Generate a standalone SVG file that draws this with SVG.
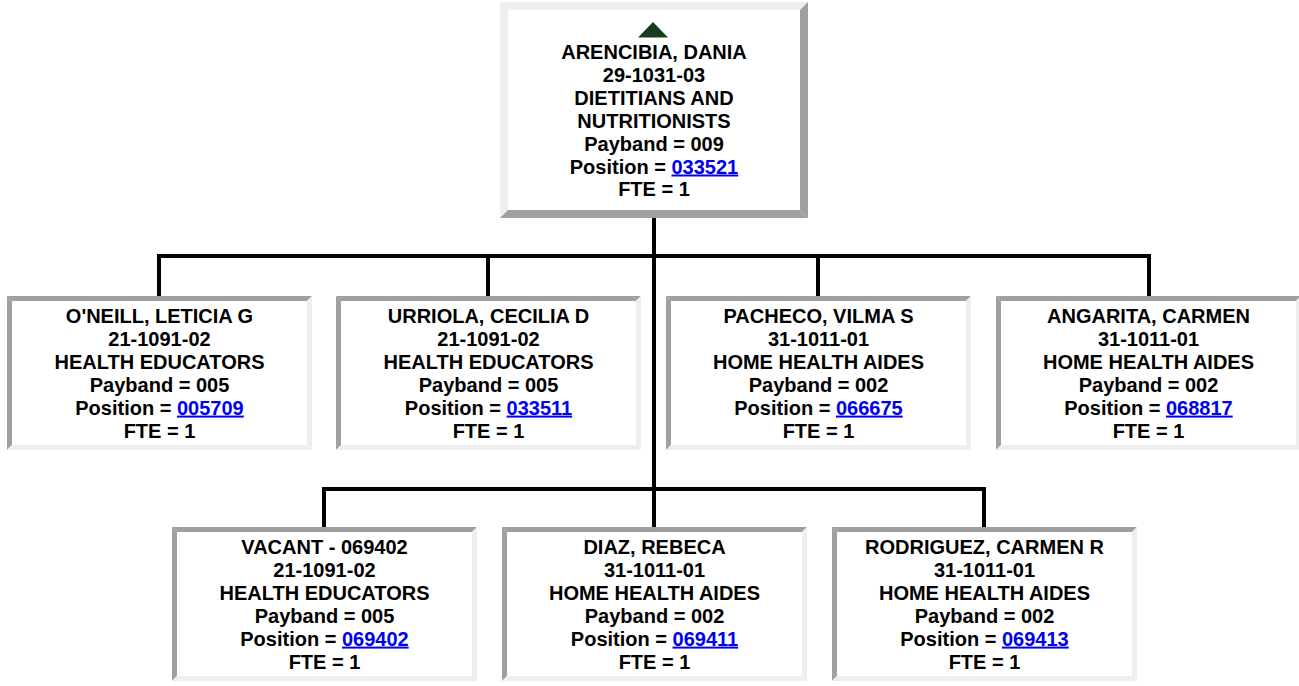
<svg xmlns="http://www.w3.org/2000/svg" xmlns:xlink="http://www.w3.org/1999/xlink" width="1299" height="686" viewBox="0 0 1299 686">
<style>
.t{font-family:"Liberation Sans",Arial,Helvetica,sans-serif;font-weight:bold;font-size:20px;fill:#000;text-anchor:middle}
.lk{fill:#0000ee;text-decoration:underline}
.dk{fill:#a0a0a0}
.lt{fill:#eeeeee}
.c{stroke:#000;stroke-width:4;fill:none;stroke-linecap:square}
</style>
<defs>
<g id="cbox">
<rect x="0" y="0" width="305" height="154" fill="#fff"/>
<polygon class="dk" points="0,0 305,0 300,5 5,5"/>
<polygon class="dk" points="0,0 5,5 5,149 0,154"/>
<polygon class="lt" points="0,154 5,149 300,149 305,154"/>
<polygon class="lt" points="305,0 305,154 300,149 300,5"/>
</g>
</defs>
<rect width="1299" height="686" fill="#fff"/>
<g id="connectors">
<line class="c" x1="654" y1="220" x2="654" y2="525"/>
<polyline class="c" points="159,294 159,256 1149,256 1149,294"/>
<line class="c" x1="488" y1="256" x2="488" y2="294"/>
<line class="c" x1="818" y1="256" x2="818" y2="294"/>
<polyline class="c" points="324,525 324,489 984,489 984,525"/>
</g>
<g id="root">
<rect x="500" y="2" width="308" height="216" fill="#fff"/>
<polygon class="lt" points="500,2 808,2 800,10 508,10"/>
<polygon class="lt" points="500,2 508,10 508,210 500,218"/>
<polygon class="dk" points="500,218 508,210 800,210 808,218"/>
<polygon class="dk" points="808,2 808,218 800,210 800,10"/>
<polygon points="653,22 638,37.5 668,37.5" fill="#183c1c"/>
<text class="t" x="654" y="59">ARENCIBIA, DANIA</text>
<text class="t" x="654" y="81.9">29-1031-03</text>
<text class="t" x="654" y="104.8">DIETITIANS AND</text>
<text class="t" x="654" y="127.7">NUTRITIONISTS</text>
<text class="t" x="654" y="150.6">Payband = 009</text>
<text class="t" x="654" y="173.5">Position = <tspan class="lk">033521</tspan></text>
<text class="t" x="654" y="196.4">FTE = 1</text>
</g>
<g id="oneill">
<use xlink:href="#cbox" x="7" y="296"/>
<text class="t" x="159.5" y="323">O'NEILL, LETICIA G</text>
<text class="t" x="159.5" y="345.9">21-1091-02</text>
<text class="t" x="159.5" y="368.8">HEALTH EDUCATORS</text>
<text class="t" x="159.5" y="391.7">Payband = 005</text>
<text class="t" x="159.5" y="414.6">Position = <tspan class="lk">005709</tspan></text>
<text class="t" x="159.5" y="437.5">FTE = 1</text>
</g>
<g id="urriola">
<use xlink:href="#cbox" x="336" y="296"/>
<text class="t" x="488.5" y="323">URRIOLA, CECILIA D</text>
<text class="t" x="488.5" y="345.9">21-1091-02</text>
<text class="t" x="488.5" y="368.8">HEALTH EDUCATORS</text>
<text class="t" x="488.5" y="391.7">Payband = 005</text>
<text class="t" x="488.5" y="414.6">Position = <tspan class="lk">033511</tspan></text>
<text class="t" x="488.5" y="437.5">FTE = 1</text>
</g>
<g id="pacheco">
<use xlink:href="#cbox" x="666" y="296"/>
<text class="t" x="818.5" y="323">PACHECO, VILMA S</text>
<text class="t" x="818.5" y="345.9">31-1011-01</text>
<text class="t" x="818.5" y="368.8">HOME HEALTH AIDES</text>
<text class="t" x="818.5" y="391.7">Payband = 002</text>
<text class="t" x="818.5" y="414.6">Position = <tspan class="lk">066675</tspan></text>
<text class="t" x="818.5" y="437.5">FTE = 1</text>
</g>
<g id="angarita">
<use xlink:href="#cbox" x="996" y="296"/>
<text class="t" x="1148.5" y="323">ANGARITA, CARMEN</text>
<text class="t" x="1148.5" y="345.9">31-1011-01</text>
<text class="t" x="1148.5" y="368.8">HOME HEALTH AIDES</text>
<text class="t" x="1148.5" y="391.7">Payband = 002</text>
<text class="t" x="1148.5" y="414.6">Position = <tspan class="lk">068817</tspan></text>
<text class="t" x="1148.5" y="437.5">FTE = 1</text>
</g>
<g id="vacant">
<use xlink:href="#cbox" x="172" y="527"/>
<text class="t" x="324.5" y="554">VACANT - 069402</text>
<text class="t" x="324.5" y="576.9">21-1091-02</text>
<text class="t" x="324.5" y="599.8">HEALTH EDUCATORS</text>
<text class="t" x="324.5" y="622.7">Payband = 005</text>
<text class="t" x="324.5" y="645.6">Position = <tspan class="lk">069402</tspan></text>
<text class="t" x="324.5" y="668.5">FTE = 1</text>
</g>
<g id="diaz">
<use xlink:href="#cbox" x="502" y="527"/>
<text class="t" x="654.5" y="554">DIAZ, REBECA</text>
<text class="t" x="654.5" y="576.9">31-1011-01</text>
<text class="t" x="654.5" y="599.8">HOME HEALTH AIDES</text>
<text class="t" x="654.5" y="622.7">Payband = 002</text>
<text class="t" x="654.5" y="645.6">Position = <tspan class="lk">069411</tspan></text>
<text class="t" x="654.5" y="668.5">FTE = 1</text>
</g>
<g id="rodriguez">
<use xlink:href="#cbox" x="832" y="527"/>
<text class="t" x="984.5" y="554">RODRIGUEZ, CARMEN R</text>
<text class="t" x="984.5" y="576.9">31-1011-01</text>
<text class="t" x="984.5" y="599.8">HOME HEALTH AIDES</text>
<text class="t" x="984.5" y="622.7">Payband = 002</text>
<text class="t" x="984.5" y="645.6">Position = <tspan class="lk">069413</tspan></text>
<text class="t" x="984.5" y="668.5">FTE = 1</text>
</g>
</svg>
